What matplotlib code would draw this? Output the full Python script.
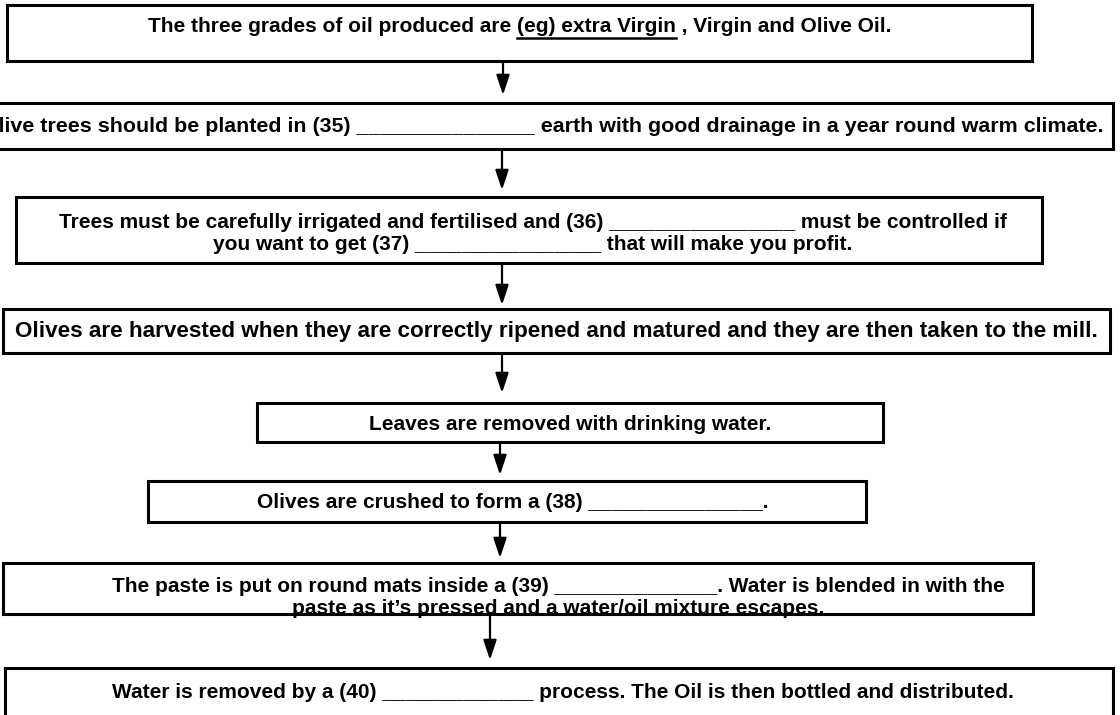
import matplotlib
matplotlib.use("Agg")
import matplotlib.pyplot as plt
from matplotlib.patches import Rectangle

# ---- content ----
title = "The Olive Oil Production Process"
step_lines = [
    ["The three grades of oil produced are (eg) extra Virgin , Virgin and Olive Oil."],
    ["Olive trees should be planted in (35) _______________ earth with good drainage in a year round warm climate."],
    ["Trees must be carefully irrigated and fertilised and (36) ________________ must be controlled if",
     "you want to get (37) ________________ that will make you profit."],
    ["Olives are harvested when they are correctly ripened and matured and they are then taken to the mill."],
    ["Leaves are removed with drinking water."],
    ["Olives are crushed to form a (38) _______________."],
    ["The paste is put on round mats inside a (39) ______________. Water is blended in with the",
     "paste as it\u2019s pressed and a water/oil mixture escapes."],
    ["Water is removed by a (40) _____________ process. The Oil is then bottled and distributed."],
]
underlined = "(eg) extra Virgin"

# ---- layout (pixels, y down) ----
boxes = [  # x0, y0, x1, y1
    (7, 5, 1032, 61),
    (-10, 103, 1113, 149),
    (16, 197, 1042, 263),
    (3, 309, 1110, 353),
    (257, 403, 883, 442),
    (148, 481, 866, 522),
    (3, 563, 1033, 614),
    (5, 668, 1113, 730),
]
text_y = [[27], [126], [222, 244], [331], [424], [503], [586, 608], [693]]
text_x = [520, 1103, 533, 556, 570, 513, 558, 563]
text_ha = ["center", "right", "center", "center", "center", "center", "center", "center"]
text_fs = [15, 15.4, 15, 16.2, 15, 15, 15, 15]
clip_bottom = [None, None, 254, None, 433, None, 612, None]
arrows = [(503, 63, 95), (502, 150, 190), (502, 264, 305), (502, 355, 393),
          (500, 443, 475), (500, 523, 558), (490, 616, 660)]

W, H = 1120, 715
fig = plt.figure(figsize=(W / 100, H / 100), dpi=100)
ax = fig.add_axes([0, 0, 1, 1])
ax.set_xlim(0, W)
ax.set_ylim(H, 0)
ax.axis("off")

FONT = "Liberation Sans"

# title, almost entirely cut off at the top edge
ax.text(573, 1.2, title, ha="center", va="bottom", fontsize=17,
        fontweight="bold", family=FONT, color="black")

for (x0, y0, x1, y1) in boxes:
    ax.add_patch(Rectangle((x0, y0), x1 - x0, y1 - y0, fill=True,
                           facecolor="white", edgecolor="black", lw=2.2,
                           zorder=2))

texts = []
for i, lines in enumerate(step_lines):
    for line, y in zip(lines, text_y[i]):
        t = ax.text(text_x[i], y, line, ha=text_ha[i], va="center",
                    fontsize=text_fs[i], fontweight="bold", family=FONT,
                    color="black", zorder=3)
        if clip_bottom[i] is not None:
            x0, y0, x1, y1 = boxes[i]
            cr = Rectangle((x0, y0), x1 - x0, clip_bottom[i] - y0,
                           transform=ax.transData, visible=False)
            t.set_clip_path(cr)
        texts.append(t)

for (x, ya, yb) in arrows:
    ax.annotate("", xy=(x, yb), xytext=(x, ya),
                arrowprops=dict(arrowstyle="-|>,head_length=1.2,head_width=0.4",
                                color="black", lw=1.6, shrinkA=0, shrinkB=0),
                zorder=1)

# underline of the example answer
fig.canvas.draw()
r = fig.canvas.get_renderer()
t0 = texts[0]
full = step_lines[0][0]
pre = full[: full.index(underlined)]
bb_full = t0.get_window_extent(r)
tmp = ax.text(0, 0, pre, fontsize=text_fs[0], fontweight="bold", family=FONT)
tmp2 = ax.text(0, 0, underlined, fontsize=text_fs[0], fontweight="bold", family=FONT)
w_pre = tmp.get_window_extent(r).width
w_u = tmp2.get_window_extent(r).width
tmp.remove(); tmp2.remove()
inv = ax.transData.inverted()
xs = bb_full.x0 + w_pre
xe = xs + w_u
(dx0, _), (dx1, _) = inv.transform([(xs, 0), (xe, 0)])
ax.plot([dx0, dx1], [37.5, 37.5], color="black", lw=1.8, zorder=3)

fig.savefig("out.png", dpi=100)
